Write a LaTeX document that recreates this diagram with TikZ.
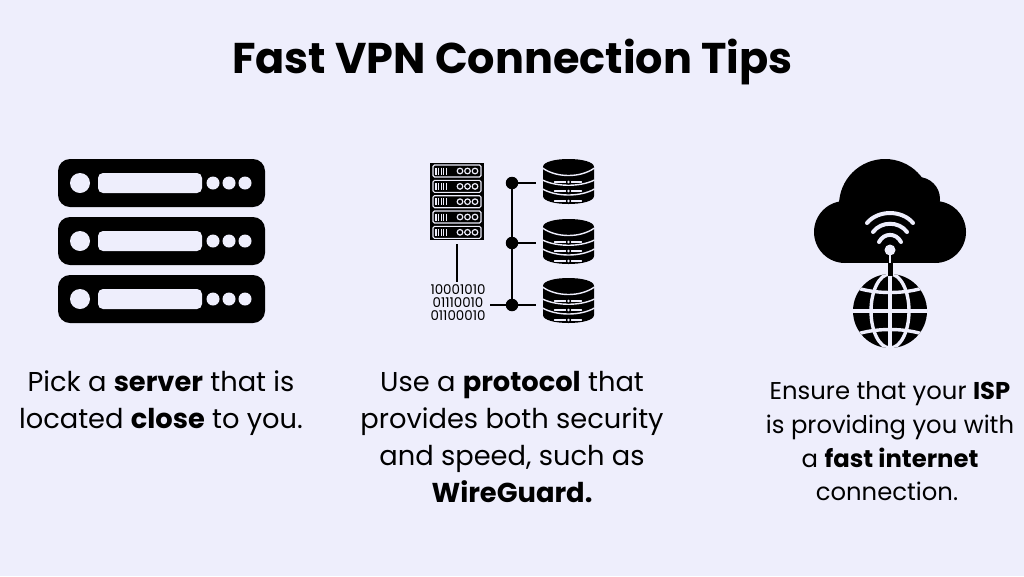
\documentclass[tikz,border=0pt]{standalone}
\usepackage{fontspec}
\setmainfont{Poppins}
\definecolor{pagebg}{HTML}{EEEEFC}
\tikzset{
    tiptext/.style={anchor=base,inner sep=0pt,font=\fontsize{27.3}{30}\selectfont},
    isptext/.style={anchor=base,inner sep=0pt,font=\fontsize{24.3}{28}\selectfont},
    hole/.style={fill=pagebg,draw=none},
    gap/.style={draw=pagebg,line cap=round},
    junction/.style={circle,fill=black,inner sep=0pt,minimum size=12.5pt},
    wire/.style={draw=black,line width=1.4pt},
    dbstack/.pic={
        \fill (-25.5,8) .. controls (-25.5,-2.67) and (25.5,-2.67) .. (25.5,8)
            -- (25.5,37) .. controls (25.5,47.67) and (-25.5,47.67) .. (-25.5,37) -- cycle;
        \foreach \ya/\yb in {9/17,21/26,30/36}
            \draw[gap,line width=1.4pt,line cap=butt] (-26,\ya) .. controls (-12,\yb+2) and (12,\yb+2) .. (26,\ya);
        \foreach \yc in {23,32,42} {
            \draw[gap,line width=1.1pt] (-14,\yc) -- (13,\yc);
            \fill[black] (0,\yc) circle[radius=2.6];
            \fill[pagebg] (0,\yc) circle[radius=1.4];
        }
    },
}
\begin{document}
\begin{tikzpicture}[x=1pt,y=-1pt]
    \fill[pagebg] (0,0) rectangle (1024,576);
    \useasboundingbox (0,0) rectangle (1024,576);
    \node (title) at (512.5,73) [anchor=base,inner sep=0pt,font=\fontsize{43}{48}\selectfont\bfseries] {Fast VPN Connection Tips};
    % server icon
    \foreach \y in {159,217,275} {
        \fill[rounded corners=12pt] (58,\y) rectangle (265,\y+48);
        \fill[hole] (80,\y+24) circle[radius=10];
        \fill[hole,rounded corners=5pt] (98,\y+14) rectangle (202,\y+34);
        \foreach \x in {213,229,245}
            \fill[hole] (\x,\y+24) circle[radius=6.5];
    }
    % rack and bits
    \node (rack) at (457,201.5) [fill=black,inner sep=0pt,minimum width=54pt,minimum height=77pt] {};
    \foreach \y in {171,186.4,201.7,217,232.3} {
        \draw[pagebg,line width=1.1pt,rounded corners=1.5pt] (433,\y-6) rectangle (481,\y+6);
        \foreach \x in {436,438.6,441.2,443.8,446.4}
            \draw[pagebg,line width=1.1pt] (\x,\y-3.5) -- (\x,\y+3.5);
        \foreach \x in {460,467.5,475}
            \draw[pagebg,line width=1.2pt] (\x,\y) circle[radius=2.8];
    }
    \node (bits) at (458,302.5) [inner sep=0pt,align=center,font=\fontsize{13.4}{12.8}\selectfont] {10001010\\01110010\\01100010};
    \draw[wire,shorten <=4pt,shorten >=3pt] (rack.south) -- (rack.south |- bits.north);
    % database stacks
    \foreach \y in {159,219,278}
        \pic at (568.5,\y) {dbstack};
    \begin{scope}[every node/.style={junction}]
        \node (J1) at (512,183) {};
        \node (J2) at (512,243) {};
        \node (J3) at (512,305) {};
    \end{scope}
    \coordinate (D1) at (536,183);
    \coordinate (D2) at (536,243);
    \coordinate (D3) at (536,305);
    \coordinate (B3) at (490,305);
    \draw[wire] (J1) -- (J2);
    \draw[wire] (J2) -- (J3);
    \draw[wire] (J1) -- (D1);
    \draw[wire] (J2) -- (D2);
    \draw[wire] (B3) -- (D3);
    % cloud
    \fill (845,232) circle[radius=31];
    \fill (935,232) circle[radius=31];
    \fill (885,205) circle[radius=46];
    \fill (918,199) circle[radius=22];
    \fill (845,215) rectangle (935,263);
    \draw[gap,line width=4pt] (867,223) .. controls (878,209.7) and (902,209.7) .. (913,223);
    \draw[gap,line width=4pt] (873,232) .. controls (881,221) and (899,221) .. (907,232);
    \draw[gap,line width=4pt] (879,242) .. controls (884,232.5) and (896,232.5) .. (901,242);
    \fill[hole] (890,250) circle[radius=5.5];
    \draw[pagebg,line width=2pt] (890,250) -- (890,263);
    % globe
    \begin{scope}
        \fill (890,311) circle[radius=37];
        \clip (890,311) circle[radius=37];
        \begin{scope}[pagebg,line width=3.4pt]
            \draw (890,270) -- (890,350);
            \draw (850,311) -- (930,311);
            \draw (890,311) ellipse[x radius=19,y radius=37];
            \draw (850,285) .. controls (870,295) and (910,295) .. (930,285);
            \draw (850,337) .. controls (870,327) and (910,327) .. (930,337);
        \end{scope}
    \end{scope}
    \draw[line width=5pt] (890,263) -- (890,276);
    % tips
    \node (a1) at (161,391) [tiptext] {Pick a \textbf{server} that is};
    \node (a2) at (161,428) [tiptext] {located \textbf{close} to you.};
    \node (b1) at (512,391) [tiptext] {Use a \textbf{protocol} that};
    \node (b2) at (512,428) [tiptext] {provides both security};
    \node (b3) at (512,465) [tiptext] {and speed, such as};
    \node (b4) at (512,502) [tiptext] {\textbf{WireGuard.}};
    \node (c1) at (890,399) [isptext] {Ensure that your \textbf{ISP}};
    \node (c2) at (890,433) [isptext] {is providing you with};
    \node (c3) at (890,467) [isptext] {a \textbf{fast internet}};
    \node (c4) at (887,500) [isptext] {connection.};
\end{tikzpicture}
\end{document}
